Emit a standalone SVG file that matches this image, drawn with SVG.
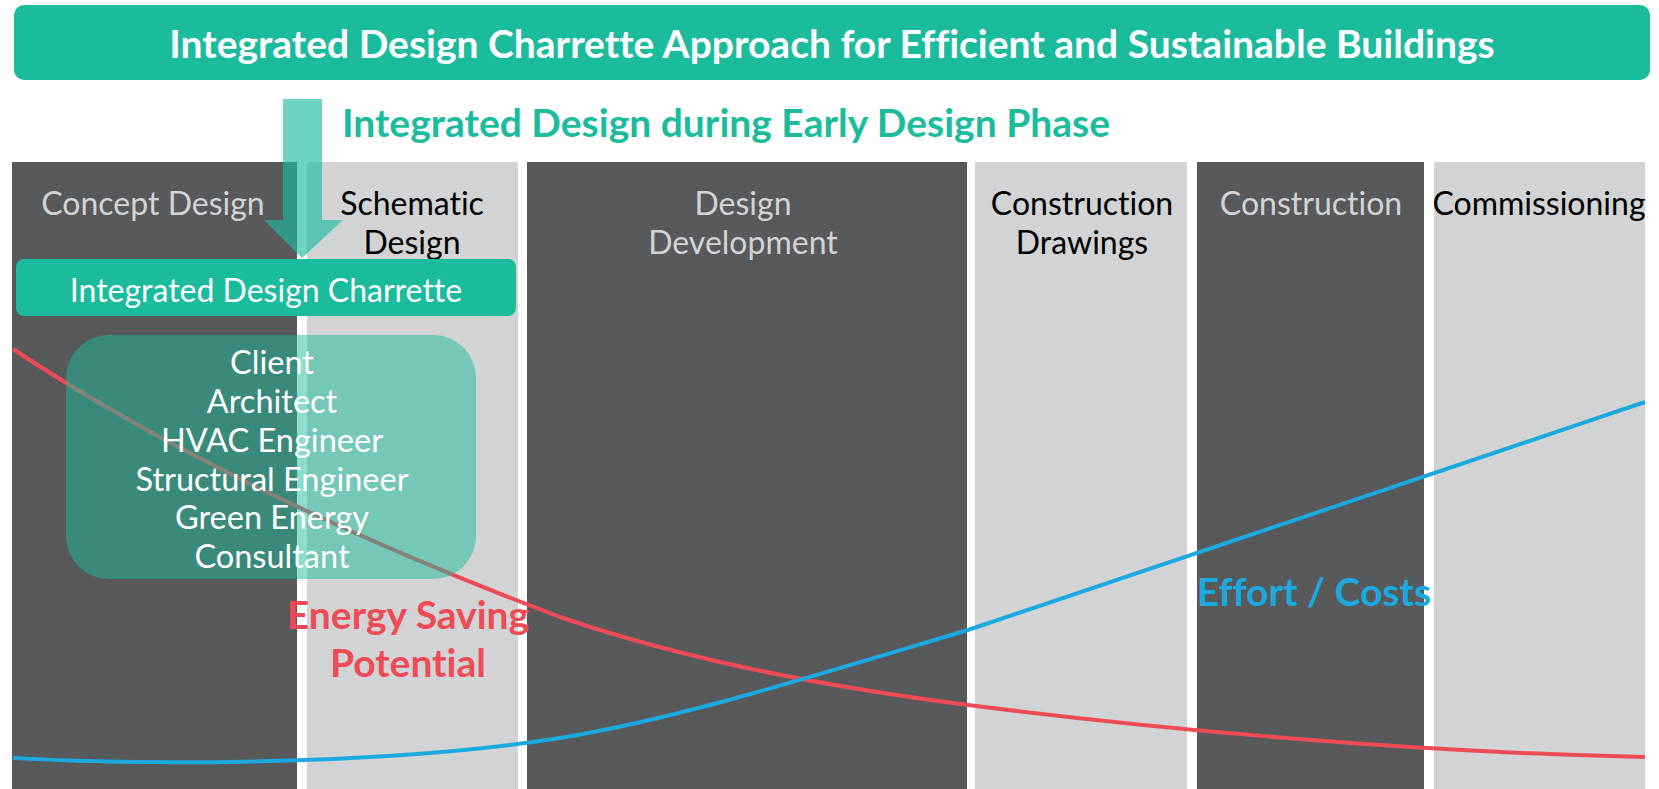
<svg xmlns="http://www.w3.org/2000/svg" width="1659" height="789" viewBox="0 0 1659 789">
<style>
.dark{fill:#58595b}
.light{fill:#d1d3d4}
.lbl{font-family:Lato,"Liberation Sans",sans-serif;font-size:32px;text-anchor:middle;font-variant-ligatures:none}
.big{font-size:39px;font-weight:bold}
.ld{fill:#d1d3d4}
.lk{fill:#000}
.w{fill:#fff}
.p{font-size:32.5px}
.curve{fill:none;stroke-width:4}
</style>
<rect width="1659" height="789" fill="#fff"/>
<g id="title">
<rect x="14" y="5" width="1636" height="75" rx="10" fill="#1abc9c"/>
<text x="832" y="58" class="lbl big w">Integrated Design Charrette Approach for Efficient and Sustainable Buildings</text>
</g>
<g id="subtitle">
<text x="726" y="137" class="lbl big" style="fill:#1abc9c">Integrated Design during Early Design Phase</text>
</g>
<g id="panels">
<rect class="dark" x="12" y="162" width="285" height="627"/>
<rect class="light" x="307" y="162" width="211" height="627"/>
<rect class="dark" x="527" y="162" width="440" height="627"/>
<rect class="light" x="975" y="162" width="212" height="627"/>
<rect class="dark" x="1197" y="162" width="227" height="627"/>
<rect class="light" x="1434" y="162" width="211" height="627"/>
</g>
<g id="phase-labels">
<text class="lbl ld" x="153" y="215">Concept Design</text>
<text class="lbl lk" x="412" y="215">Schematic</text>
<text class="lbl lk" x="412" y="254">Design</text>
<text class="lbl ld" x="743" y="215">Design</text>
<text class="lbl ld" x="743" y="254">Development</text>
<text class="lbl lk" x="1082" y="215">Construction</text>
<text class="lbl lk" x="1082" y="254">Drawings</text>
<text class="lbl ld" x="1311" y="215">Construction</text>
<text class="lbl lk" x="1539" y="215">Commissioning</text>
</g>
<g id="connectors">
<path id="energy-curve" class="curve" stroke="#ef4b57" d="M13,349 C150,440 330,530 560,617 C700,665 850,690 968,705 C1150,728 1400,752 1645,757"/>
<path id="cost-curve" class="curve" stroke="#1ba9e0" d="M13,758 C200,768 420,760 560,738 C680,718 800,680 968,630 C1150,570 1400,485 1645,402"/>
<path id="phase-arrow" fill="#1abc9c" fill-opacity="0.64" d="M283,99 H322 V220 H343 L302,258 L264,220 H283 Z"/>
</g>
<g id="participants">
<rect x="66" y="335" width="410" height="244" rx="43" fill="#1abc9c" fill-opacity="0.5"/>
<text class="lbl p w" x="272" y="374">Client</text>
<text class="lbl p w" x="272" y="413">Architect</text>
<text class="lbl p w" x="272" y="452">HVAC Engineer</text>
<text class="lbl p w" x="272" y="491">Structural Engineer</text>
<text class="lbl p w" x="272" y="529">Green Energy</text>
<text class="lbl p w" x="272" y="568">Consultant</text>
</g>
<g id="charrette">
<rect x="16" y="259" width="500" height="57" rx="8" fill="#1abc9c"/>
<text class="lbl w" x="266" y="302">Integrated Design Charrette</text>
</g>
<g id="energy-label">
<text class="lbl big" x="408" y="629" style="fill:#ef4b57">Energy Saving</text>
<text class="lbl big" x="408" y="677" style="fill:#ef4b57">Potential</text>
</g>
<g id="cost-label">
<text class="lbl big" x="1314" y="606" style="fill:#1ba9e0">Effort / Costs</text>
</g>
</svg>
